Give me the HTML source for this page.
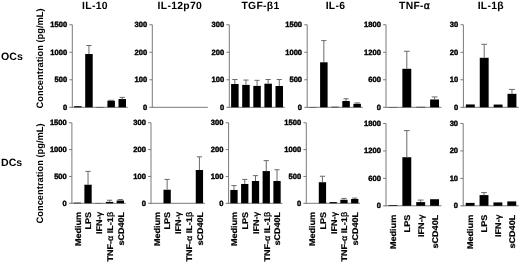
<!DOCTYPE html><html><head><meta charset="utf-8"><style>
html,body{margin:0;padding:0;background:#fff;width:520px;height:264px;overflow:hidden}
svg{display:block;filter:grayscale(1)}
text{font-family:"Liberation Sans", sans-serif;font-weight:bold;fill:#000;text-rendering:geometricPrecision}
.tk{font-size:7.6px;text-anchor:end;stroke:#000;stroke-width:0.4px}
.ti{font-size:10.4px;text-anchor:middle;letter-spacing:0.3px}
.rl{font-size:10.6px}
.yl{font-size:9.35px;text-anchor:middle}
.xl{font-size:8.3px;stroke:#000;stroke-width:0.2px}
.gk{font-weight:normal;stroke-width:0.35px}
.ti .gk{stroke:#000;stroke-width:0.45px}
</style></head><body>
<svg width="520" height="264" viewBox="0 0 520 264">
<text x="95.00" y="9.0" class="ti">IL-10</text>
<text x="179.90" y="9.0" class="ti">IL-12p70</text>
<text x="260.50" y="9.0" class="ti">TGF-β1</text>
<text x="335.50" y="9.0" class="ti">IL-6</text>
<text x="414.60" y="9.0" class="ti">TNF-<tspan class="gk">α</tspan></text>
<text x="490.80" y="9.0" class="ti">IL-1β</text>
<text x="1.0" y="59.6" class="rl">OCs</text>
<text x="1.0" y="165.9" class="rl">DCs</text>
<text transform="translate(42.5,58.4) rotate(-90)" class="yl">Concentration (pg/mL)</text>
<text transform="translate(42.5,173.4) rotate(-90)" class="yl">Concentration (pg/mL)</text>
<line x1="72.30" y1="24.75" x2="72.30" y2="107.80" stroke="#7a7a7a" stroke-width="1"/>
<line x1="71.80" y1="107.30" x2="127.80" y2="107.30" stroke="#7a7a7a" stroke-width="1"/>
<line x1="69.40" y1="107.30" x2="72.30" y2="107.30" stroke="#7a7a7a" stroke-width="1"/>
<text x="67.20" y="109.75" class="tk">0</text>
<line x1="69.40" y1="79.78" x2="72.30" y2="79.78" stroke="#7a7a7a" stroke-width="1"/>
<text x="67.20" y="82.23" class="tk">500</text>
<line x1="69.40" y1="52.27" x2="72.30" y2="52.27" stroke="#7a7a7a" stroke-width="1"/>
<text x="67.20" y="54.72" class="tk">1000</text>
<line x1="69.40" y1="24.75" x2="72.30" y2="24.75" stroke="#7a7a7a" stroke-width="1"/>
<text x="67.20" y="27.20" class="tk">1500</text>
<rect x="74.10" y="106.20" width="7.50" height="1.10" fill="#000"/>
<rect x="85.20" y="54.03" width="7.50" height="53.27" fill="#000"/>
<line x1="88.95" y1="45.50" x2="88.95" y2="54.03" stroke="#6a6a6a" stroke-width="1"/>
<line x1="86.35" y1="45.50" x2="91.55" y2="45.50" stroke="#6a6a6a" stroke-width="1"/>
<rect x="96.30" y="106.97" width="7.50" height="0.33" fill="#000"/>
<rect x="107.40" y="100.70" width="7.50" height="6.60" fill="#000"/>
<line x1="111.15" y1="100.31" x2="111.15" y2="100.70" stroke="#6a6a6a" stroke-width="1"/>
<line x1="108.55" y1="100.31" x2="113.75" y2="100.31" stroke="#6a6a6a" stroke-width="1"/>
<rect x="118.50" y="99.05" width="7.50" height="8.25" fill="#000"/>
<line x1="122.25" y1="97.39" x2="122.25" y2="99.05" stroke="#6a6a6a" stroke-width="1"/>
<line x1="119.65" y1="97.39" x2="124.85" y2="97.39" stroke="#6a6a6a" stroke-width="1"/>
<line x1="152.30" y1="24.75" x2="152.30" y2="107.80" stroke="#7a7a7a" stroke-width="1"/>
<line x1="151.80" y1="107.30" x2="207.80" y2="107.30" stroke="#7a7a7a" stroke-width="1"/>
<line x1="149.40" y1="107.30" x2="152.30" y2="107.30" stroke="#7a7a7a" stroke-width="1"/>
<text x="147.20" y="109.75" class="tk">0</text>
<line x1="149.40" y1="79.78" x2="152.30" y2="79.78" stroke="#7a7a7a" stroke-width="1"/>
<text x="147.20" y="82.23" class="tk">100</text>
<line x1="149.40" y1="52.27" x2="152.30" y2="52.27" stroke="#7a7a7a" stroke-width="1"/>
<text x="147.20" y="54.72" class="tk">200</text>
<line x1="149.40" y1="24.75" x2="152.30" y2="24.75" stroke="#7a7a7a" stroke-width="1"/>
<text x="147.20" y="27.20" class="tk">300</text>
<line x1="229.30" y1="24.75" x2="229.30" y2="107.80" stroke="#7a7a7a" stroke-width="1"/>
<line x1="228.80" y1="107.30" x2="284.80" y2="107.30" stroke="#7a7a7a" stroke-width="1"/>
<line x1="226.40" y1="107.30" x2="229.30" y2="107.30" stroke="#7a7a7a" stroke-width="1"/>
<text x="224.20" y="109.75" class="tk">0</text>
<line x1="226.40" y1="79.78" x2="229.30" y2="79.78" stroke="#7a7a7a" stroke-width="1"/>
<text x="224.20" y="82.23" class="tk">100</text>
<line x1="226.40" y1="52.27" x2="229.30" y2="52.27" stroke="#7a7a7a" stroke-width="1"/>
<text x="224.20" y="54.72" class="tk">200</text>
<line x1="226.40" y1="24.75" x2="229.30" y2="24.75" stroke="#7a7a7a" stroke-width="1"/>
<text x="224.20" y="27.20" class="tk">300</text>
<rect x="231.10" y="83.99" width="7.50" height="23.31" fill="#000"/>
<line x1="234.85" y1="79.51" x2="234.85" y2="83.99" stroke="#6a6a6a" stroke-width="1"/>
<line x1="232.25" y1="79.51" x2="237.45" y2="79.51" stroke="#6a6a6a" stroke-width="1"/>
<rect x="242.20" y="84.90" width="7.50" height="22.40" fill="#000"/>
<line x1="245.95" y1="80.06" x2="245.95" y2="84.90" stroke="#6a6a6a" stroke-width="1"/>
<line x1="243.35" y1="80.06" x2="248.55" y2="80.06" stroke="#6a6a6a" stroke-width="1"/>
<rect x="253.30" y="85.89" width="7.50" height="21.41" fill="#000"/>
<line x1="257.05" y1="80.33" x2="257.05" y2="85.89" stroke="#6a6a6a" stroke-width="1"/>
<line x1="254.45" y1="80.33" x2="259.65" y2="80.33" stroke="#6a6a6a" stroke-width="1"/>
<rect x="264.40" y="83.69" width="7.50" height="23.61" fill="#000"/>
<line x1="268.15" y1="79.51" x2="268.15" y2="83.69" stroke="#6a6a6a" stroke-width="1"/>
<line x1="265.55" y1="79.51" x2="270.75" y2="79.51" stroke="#6a6a6a" stroke-width="1"/>
<rect x="275.50" y="86.00" width="7.50" height="21.30" fill="#000"/>
<line x1="279.25" y1="79.51" x2="279.25" y2="86.00" stroke="#6a6a6a" stroke-width="1"/>
<line x1="276.65" y1="79.51" x2="281.85" y2="79.51" stroke="#6a6a6a" stroke-width="1"/>
<line x1="307.20" y1="24.75" x2="307.20" y2="107.80" stroke="#7a7a7a" stroke-width="1"/>
<line x1="306.70" y1="107.30" x2="362.70" y2="107.30" stroke="#7a7a7a" stroke-width="1"/>
<line x1="304.30" y1="107.30" x2="307.20" y2="107.30" stroke="#7a7a7a" stroke-width="1"/>
<text x="302.10" y="109.75" class="tk">0</text>
<line x1="304.30" y1="79.78" x2="307.20" y2="79.78" stroke="#7a7a7a" stroke-width="1"/>
<text x="302.10" y="82.23" class="tk">500</text>
<line x1="304.30" y1="52.27" x2="307.20" y2="52.27" stroke="#7a7a7a" stroke-width="1"/>
<text x="302.10" y="54.72" class="tk">1000</text>
<line x1="304.30" y1="24.75" x2="307.20" y2="24.75" stroke="#7a7a7a" stroke-width="1"/>
<text x="302.10" y="27.20" class="tk">1500</text>
<rect x="309.00" y="107.02" width="7.50" height="0.28" fill="#000"/>
<rect x="320.10" y="62.28" width="7.50" height="45.02" fill="#000"/>
<line x1="323.85" y1="40.60" x2="323.85" y2="62.28" stroke="#6a6a6a" stroke-width="1"/>
<line x1="321.25" y1="40.60" x2="326.45" y2="40.60" stroke="#6a6a6a" stroke-width="1"/>
<rect x="331.20" y="106.75" width="7.50" height="0.55" fill="#000"/>
<rect x="342.30" y="100.97" width="7.50" height="6.33" fill="#000"/>
<line x1="346.05" y1="98.77" x2="346.05" y2="100.97" stroke="#6a6a6a" stroke-width="1"/>
<line x1="343.45" y1="98.77" x2="348.65" y2="98.77" stroke="#6a6a6a" stroke-width="1"/>
<rect x="353.40" y="103.78" width="7.50" height="3.52" fill="#000"/>
<line x1="357.15" y1="102.90" x2="357.15" y2="103.78" stroke="#6a6a6a" stroke-width="1"/>
<line x1="354.55" y1="102.90" x2="359.75" y2="102.90" stroke="#6a6a6a" stroke-width="1"/>
<line x1="386.00" y1="24.75" x2="386.00" y2="107.80" stroke="#7a7a7a" stroke-width="1"/>
<line x1="385.50" y1="107.30" x2="441.50" y2="107.30" stroke="#7a7a7a" stroke-width="1"/>
<line x1="383.10" y1="107.30" x2="386.00" y2="107.30" stroke="#7a7a7a" stroke-width="1"/>
<text x="380.90" y="109.75" class="tk">0</text>
<line x1="383.10" y1="79.78" x2="386.00" y2="79.78" stroke="#7a7a7a" stroke-width="1"/>
<text x="380.90" y="82.23" class="tk">600</text>
<line x1="383.10" y1="52.27" x2="386.00" y2="52.27" stroke="#7a7a7a" stroke-width="1"/>
<text x="380.90" y="54.72" class="tk">1200</text>
<line x1="383.10" y1="24.75" x2="386.00" y2="24.75" stroke="#7a7a7a" stroke-width="1"/>
<text x="380.90" y="27.20" class="tk">1800</text>
<rect x="388.49" y="107.02" width="8.90" height="0.28" fill="#000"/>
<rect x="402.36" y="68.78" width="8.90" height="38.52" fill="#000"/>
<line x1="406.81" y1="51.26" x2="406.81" y2="68.78" stroke="#6a6a6a" stroke-width="1"/>
<line x1="403.91" y1="51.26" x2="409.71" y2="51.26" stroke="#6a6a6a" stroke-width="1"/>
<rect x="416.24" y="106.84" width="8.90" height="0.46" fill="#000"/>
<rect x="430.11" y="99.46" width="8.90" height="7.84" fill="#000"/>
<line x1="434.56" y1="96.94" x2="434.56" y2="99.46" stroke="#6a6a6a" stroke-width="1"/>
<line x1="431.66" y1="96.94" x2="437.46" y2="96.94" stroke="#6a6a6a" stroke-width="1"/>
<line x1="463.40" y1="24.75" x2="463.40" y2="107.80" stroke="#7a7a7a" stroke-width="1"/>
<line x1="462.90" y1="107.30" x2="518.90" y2="107.30" stroke="#7a7a7a" stroke-width="1"/>
<line x1="460.50" y1="107.30" x2="463.40" y2="107.30" stroke="#7a7a7a" stroke-width="1"/>
<text x="458.30" y="109.75" class="tk">0</text>
<line x1="460.50" y1="79.78" x2="463.40" y2="79.78" stroke="#7a7a7a" stroke-width="1"/>
<text x="458.30" y="82.23" class="tk">10</text>
<line x1="460.50" y1="52.27" x2="463.40" y2="52.27" stroke="#7a7a7a" stroke-width="1"/>
<text x="458.30" y="54.72" class="tk">20</text>
<line x1="460.50" y1="24.75" x2="463.40" y2="24.75" stroke="#7a7a7a" stroke-width="1"/>
<text x="458.30" y="27.20" class="tk">30</text>
<rect x="465.89" y="104.44" width="8.90" height="2.86" fill="#000"/>
<rect x="479.76" y="57.77" width="8.90" height="49.53" fill="#000"/>
<line x1="484.21" y1="44.29" x2="484.21" y2="57.77" stroke="#6a6a6a" stroke-width="1"/>
<line x1="481.31" y1="44.29" x2="487.11" y2="44.29" stroke="#6a6a6a" stroke-width="1"/>
<rect x="493.64" y="104.55" width="8.90" height="2.75" fill="#000"/>
<rect x="507.51" y="93.82" width="8.90" height="13.48" fill="#000"/>
<line x1="511.96" y1="89.41" x2="511.96" y2="93.82" stroke="#6a6a6a" stroke-width="1"/>
<line x1="509.06" y1="89.41" x2="514.86" y2="89.41" stroke="#6a6a6a" stroke-width="1"/>
<line x1="71.90" y1="122.75" x2="71.90" y2="203.80" stroke="#7a7a7a" stroke-width="1"/>
<line x1="71.40" y1="203.30" x2="125.70" y2="203.30" stroke="#7a7a7a" stroke-width="1"/>
<line x1="69.00" y1="203.30" x2="71.90" y2="203.30" stroke="#7a7a7a" stroke-width="1"/>
<text x="66.80" y="205.75" class="tk">0</text>
<line x1="69.00" y1="176.45" x2="71.90" y2="176.45" stroke="#7a7a7a" stroke-width="1"/>
<text x="66.80" y="178.90" class="tk">500</text>
<line x1="69.00" y1="149.60" x2="71.90" y2="149.60" stroke="#7a7a7a" stroke-width="1"/>
<text x="66.80" y="152.05" class="tk">1000</text>
<line x1="69.00" y1="122.75" x2="71.90" y2="122.75" stroke="#7a7a7a" stroke-width="1"/>
<text x="66.80" y="125.20" class="tk">1500</text>
<rect x="73.63" y="202.66" width="7.30" height="0.64" fill="#000"/>
<rect x="84.39" y="184.72" width="7.30" height="18.58" fill="#000"/>
<line x1="88.04" y1="171.40" x2="88.04" y2="184.72" stroke="#6a6a6a" stroke-width="1"/>
<line x1="85.44" y1="171.40" x2="90.64" y2="171.40" stroke="#6a6a6a" stroke-width="1"/>
<rect x="95.15" y="203.09" width="7.30" height="0.21" fill="#000"/>
<rect x="105.91" y="201.90" width="7.30" height="1.40" fill="#000"/>
<line x1="109.56" y1="200.24" x2="109.56" y2="201.90" stroke="#6a6a6a" stroke-width="1"/>
<line x1="106.96" y1="200.24" x2="112.16" y2="200.24" stroke="#6a6a6a" stroke-width="1"/>
<rect x="116.67" y="200.51" width="7.30" height="2.79" fill="#000"/>
<line x1="120.32" y1="199.54" x2="120.32" y2="200.51" stroke="#6a6a6a" stroke-width="1"/>
<line x1="117.72" y1="199.54" x2="122.92" y2="199.54" stroke="#6a6a6a" stroke-width="1"/>
<text transform="translate(80.58,211.90) rotate(-90) scale(1.09,1)" class="xl" text-anchor="end">Medium</text>
<text transform="translate(91.34,211.90) rotate(-90) scale(1.09,1)" class="xl" text-anchor="end">LPS</text>
<text transform="translate(102.10,211.90) rotate(-90) scale(1.09,1)" class="xl" text-anchor="end">IFN-<tspan class="gk">γ</tspan></text>
<text transform="translate(112.86,211.90) rotate(-90) scale(1.09,1)" class="xl" text-anchor="end">TNF-<tspan class="gk">α</tspan> IL-1<tspan class="gk">β</tspan></text>
<text transform="translate(123.62,211.90) rotate(-90) scale(1.09,1)" class="xl" text-anchor="end">sCD40L</text>
<line x1="151.00" y1="122.75" x2="151.00" y2="203.80" stroke="#7a7a7a" stroke-width="1"/>
<line x1="150.50" y1="203.30" x2="204.80" y2="203.30" stroke="#7a7a7a" stroke-width="1"/>
<line x1="148.10" y1="203.30" x2="151.00" y2="203.30" stroke="#7a7a7a" stroke-width="1"/>
<text x="145.90" y="205.75" class="tk">0</text>
<line x1="148.10" y1="176.45" x2="151.00" y2="176.45" stroke="#7a7a7a" stroke-width="1"/>
<text x="145.90" y="178.90" class="tk">100</text>
<line x1="148.10" y1="149.60" x2="151.00" y2="149.60" stroke="#7a7a7a" stroke-width="1"/>
<text x="145.90" y="152.05" class="tk">200</text>
<line x1="148.10" y1="122.75" x2="151.00" y2="122.75" stroke="#7a7a7a" stroke-width="1"/>
<text x="145.90" y="125.20" class="tk">300</text>
<rect x="163.49" y="189.74" width="7.30" height="13.56" fill="#000"/>
<line x1="167.14" y1="179.40" x2="167.14" y2="189.74" stroke="#6a6a6a" stroke-width="1"/>
<line x1="164.54" y1="179.40" x2="169.74" y2="179.40" stroke="#6a6a6a" stroke-width="1"/>
<rect x="195.77" y="170.01" width="7.30" height="33.29" fill="#000"/>
<line x1="199.42" y1="156.85" x2="199.42" y2="170.01" stroke="#6a6a6a" stroke-width="1"/>
<line x1="196.82" y1="156.85" x2="202.02" y2="156.85" stroke="#6a6a6a" stroke-width="1"/>
<text transform="translate(159.68,211.90) rotate(-90) scale(1.09,1)" class="xl" text-anchor="end">Medium</text>
<text transform="translate(170.44,211.90) rotate(-90) scale(1.09,1)" class="xl" text-anchor="end">LPS</text>
<text transform="translate(181.20,211.90) rotate(-90) scale(1.09,1)" class="xl" text-anchor="end">IFN-<tspan class="gk">γ</tspan></text>
<text transform="translate(191.96,211.90) rotate(-90) scale(1.09,1)" class="xl" text-anchor="end">TNF-<tspan class="gk">α</tspan> IL-1<tspan class="gk">β</tspan></text>
<text transform="translate(202.72,211.90) rotate(-90) scale(1.09,1)" class="xl" text-anchor="end">sCD40L</text>
<line x1="228.60" y1="122.75" x2="228.60" y2="203.80" stroke="#7a7a7a" stroke-width="1"/>
<line x1="228.10" y1="203.30" x2="282.40" y2="203.30" stroke="#7a7a7a" stroke-width="1"/>
<line x1="225.70" y1="203.30" x2="228.60" y2="203.30" stroke="#7a7a7a" stroke-width="1"/>
<text x="223.50" y="205.75" class="tk">0</text>
<line x1="225.70" y1="176.45" x2="228.60" y2="176.45" stroke="#7a7a7a" stroke-width="1"/>
<text x="223.50" y="178.90" class="tk">100</text>
<line x1="225.70" y1="149.60" x2="228.60" y2="149.60" stroke="#7a7a7a" stroke-width="1"/>
<text x="223.50" y="152.05" class="tk">200</text>
<line x1="225.70" y1="122.75" x2="228.60" y2="122.75" stroke="#7a7a7a" stroke-width="1"/>
<text x="223.50" y="125.20" class="tk">300</text>
<rect x="230.33" y="189.98" width="7.30" height="13.32" fill="#000"/>
<line x1="233.98" y1="185.58" x2="233.98" y2="189.98" stroke="#6a6a6a" stroke-width="1"/>
<line x1="231.38" y1="185.58" x2="236.58" y2="185.58" stroke="#6a6a6a" stroke-width="1"/>
<rect x="241.09" y="183.97" width="7.30" height="19.33" fill="#000"/>
<line x1="244.74" y1="179.40" x2="244.74" y2="183.97" stroke="#6a6a6a" stroke-width="1"/>
<line x1="242.14" y1="179.40" x2="247.34" y2="179.40" stroke="#6a6a6a" stroke-width="1"/>
<rect x="251.85" y="181.01" width="7.30" height="22.29" fill="#000"/>
<line x1="255.50" y1="175.64" x2="255.50" y2="181.01" stroke="#6a6a6a" stroke-width="1"/>
<line x1="252.90" y1="175.64" x2="258.10" y2="175.64" stroke="#6a6a6a" stroke-width="1"/>
<rect x="262.61" y="171.08" width="7.30" height="32.22" fill="#000"/>
<line x1="266.26" y1="160.61" x2="266.26" y2="171.08" stroke="#6a6a6a" stroke-width="1"/>
<line x1="263.66" y1="160.61" x2="268.86" y2="160.61" stroke="#6a6a6a" stroke-width="1"/>
<rect x="273.37" y="181.01" width="7.30" height="22.29" fill="#000"/>
<line x1="277.02" y1="169.74" x2="277.02" y2="181.01" stroke="#6a6a6a" stroke-width="1"/>
<line x1="274.42" y1="169.74" x2="279.62" y2="169.74" stroke="#6a6a6a" stroke-width="1"/>
<text transform="translate(237.28,211.90) rotate(-90) scale(1.09,1)" class="xl" text-anchor="end">Medium</text>
<text transform="translate(248.04,211.90) rotate(-90) scale(1.09,1)" class="xl" text-anchor="end">LPS</text>
<text transform="translate(258.80,211.90) rotate(-90) scale(1.09,1)" class="xl" text-anchor="end">IFN-<tspan class="gk">γ</tspan></text>
<text transform="translate(269.56,211.90) rotate(-90) scale(1.09,1)" class="xl" text-anchor="end">TNF-<tspan class="gk">α</tspan> IL-1<tspan class="gk">β</tspan></text>
<text transform="translate(280.32,211.90) rotate(-90) scale(1.09,1)" class="xl" text-anchor="end">sCD40L</text>
<line x1="306.30" y1="122.75" x2="306.30" y2="203.80" stroke="#7a7a7a" stroke-width="1"/>
<line x1="305.80" y1="203.30" x2="360.10" y2="203.30" stroke="#7a7a7a" stroke-width="1"/>
<line x1="303.40" y1="203.30" x2="306.30" y2="203.30" stroke="#7a7a7a" stroke-width="1"/>
<text x="301.20" y="205.75" class="tk">0</text>
<line x1="303.40" y1="176.45" x2="306.30" y2="176.45" stroke="#7a7a7a" stroke-width="1"/>
<text x="301.20" y="178.90" class="tk">500</text>
<line x1="303.40" y1="149.60" x2="306.30" y2="149.60" stroke="#7a7a7a" stroke-width="1"/>
<text x="301.20" y="152.05" class="tk">1000</text>
<line x1="303.40" y1="122.75" x2="306.30" y2="122.75" stroke="#7a7a7a" stroke-width="1"/>
<text x="301.20" y="125.20" class="tk">1500</text>
<rect x="318.79" y="182.25" width="7.30" height="21.05" fill="#000"/>
<line x1="322.44" y1="176.24" x2="322.44" y2="182.25" stroke="#6a6a6a" stroke-width="1"/>
<line x1="319.84" y1="176.24" x2="325.04" y2="176.24" stroke="#6a6a6a" stroke-width="1"/>
<rect x="329.55" y="202.12" width="7.30" height="1.18" fill="#000"/>
<rect x="340.31" y="199.76" width="7.30" height="3.54" fill="#000"/>
<line x1="343.96" y1="198.41" x2="343.96" y2="199.76" stroke="#6a6a6a" stroke-width="1"/>
<line x1="341.36" y1="198.41" x2="346.56" y2="198.41" stroke="#6a6a6a" stroke-width="1"/>
<rect x="351.07" y="199.00" width="7.30" height="4.30" fill="#000"/>
<line x1="354.72" y1="198.09" x2="354.72" y2="199.00" stroke="#6a6a6a" stroke-width="1"/>
<line x1="352.12" y1="198.09" x2="357.32" y2="198.09" stroke="#6a6a6a" stroke-width="1"/>
<text transform="translate(314.98,211.90) rotate(-90) scale(1.09,1)" class="xl" text-anchor="end">Medium</text>
<text transform="translate(325.74,211.90) rotate(-90) scale(1.09,1)" class="xl" text-anchor="end">LPS</text>
<text transform="translate(336.50,211.90) rotate(-90) scale(1.09,1)" class="xl" text-anchor="end">IFN-<tspan class="gk">γ</tspan></text>
<text transform="translate(347.26,211.90) rotate(-90) scale(1.09,1)" class="xl" text-anchor="end">TNF-<tspan class="gk">α</tspan> IL-1<tspan class="gk">β</tspan></text>
<text transform="translate(358.02,211.90) rotate(-90) scale(1.09,1)" class="xl" text-anchor="end">sCD40L</text>
<line x1="386.00" y1="123.50" x2="386.00" y2="206.30" stroke="#7a7a7a" stroke-width="1"/>
<line x1="385.50" y1="205.80" x2="441.50" y2="205.80" stroke="#7a7a7a" stroke-width="1"/>
<line x1="383.10" y1="205.80" x2="386.00" y2="205.80" stroke="#7a7a7a" stroke-width="1"/>
<text x="380.90" y="208.25" class="tk">0</text>
<line x1="383.10" y1="178.37" x2="386.00" y2="178.37" stroke="#7a7a7a" stroke-width="1"/>
<text x="380.90" y="180.82" class="tk">600</text>
<line x1="383.10" y1="150.93" x2="386.00" y2="150.93" stroke="#7a7a7a" stroke-width="1"/>
<text x="380.90" y="153.38" class="tk">1200</text>
<line x1="383.10" y1="123.50" x2="386.00" y2="123.50" stroke="#7a7a7a" stroke-width="1"/>
<text x="380.90" y="125.95" class="tk">1800</text>
<rect x="388.49" y="205.11" width="8.90" height="0.69" fill="#000"/>
<rect x="402.36" y="157.24" width="8.90" height="48.56" fill="#000"/>
<line x1="406.81" y1="130.59" x2="406.81" y2="157.24" stroke="#6a6a6a" stroke-width="1"/>
<line x1="403.91" y1="130.59" x2="409.71" y2="130.59" stroke="#6a6a6a" stroke-width="1"/>
<rect x="416.24" y="202.10" width="8.90" height="3.70" fill="#000"/>
<line x1="420.69" y1="200.08" x2="420.69" y2="202.10" stroke="#6a6a6a" stroke-width="1"/>
<line x1="417.79" y1="200.08" x2="423.59" y2="200.08" stroke="#6a6a6a" stroke-width="1"/>
<rect x="430.11" y="199.22" width="8.90" height="6.58" fill="#000"/>
<text transform="translate(396.24,214.80) rotate(-90) scale(1.09,1)" class="xl" text-anchor="end">Medium</text>
<text transform="translate(410.11,214.80) rotate(-90) scale(1.09,1)" class="xl" text-anchor="end">LPS</text>
<text transform="translate(423.99,214.80) rotate(-90) scale(1.09,1)" class="xl" text-anchor="end">IFN-<tspan class="gk">γ</tspan></text>
<text transform="translate(437.86,214.80) rotate(-90) scale(1.09,1)" class="xl" text-anchor="end">sCD40L</text>
<line x1="463.20" y1="123.50" x2="463.20" y2="206.30" stroke="#7a7a7a" stroke-width="1"/>
<line x1="462.70" y1="205.80" x2="518.70" y2="205.80" stroke="#7a7a7a" stroke-width="1"/>
<line x1="460.30" y1="205.80" x2="463.20" y2="205.80" stroke="#7a7a7a" stroke-width="1"/>
<text x="458.10" y="208.25" class="tk">0</text>
<line x1="460.30" y1="178.37" x2="463.20" y2="178.37" stroke="#7a7a7a" stroke-width="1"/>
<text x="458.10" y="180.82" class="tk">10</text>
<line x1="460.30" y1="150.93" x2="463.20" y2="150.93" stroke="#7a7a7a" stroke-width="1"/>
<text x="458.10" y="153.38" class="tk">20</text>
<line x1="460.30" y1="123.50" x2="463.20" y2="123.50" stroke="#7a7a7a" stroke-width="1"/>
<text x="458.10" y="125.95" class="tk">30</text>
<rect x="465.69" y="202.89" width="8.90" height="2.91" fill="#000"/>
<rect x="479.56" y="195.10" width="8.90" height="10.70" fill="#000"/>
<line x1="484.01" y1="192.63" x2="484.01" y2="195.10" stroke="#6a6a6a" stroke-width="1"/>
<line x1="481.11" y1="192.63" x2="486.91" y2="192.63" stroke="#6a6a6a" stroke-width="1"/>
<rect x="493.44" y="202.40" width="8.90" height="3.40" fill="#000"/>
<rect x="507.31" y="201.41" width="8.90" height="4.39" fill="#000"/>
<text transform="translate(473.44,214.80) rotate(-90) scale(1.09,1)" class="xl" text-anchor="end">Medium</text>
<text transform="translate(487.31,214.80) rotate(-90) scale(1.09,1)" class="xl" text-anchor="end">LPS</text>
<text transform="translate(501.19,214.80) rotate(-90) scale(1.09,1)" class="xl" text-anchor="end">IFN-<tspan class="gk">γ</tspan></text>
<text transform="translate(515.06,214.80) rotate(-90) scale(1.09,1)" class="xl" text-anchor="end">sCD40L</text>
</svg></body></html>
